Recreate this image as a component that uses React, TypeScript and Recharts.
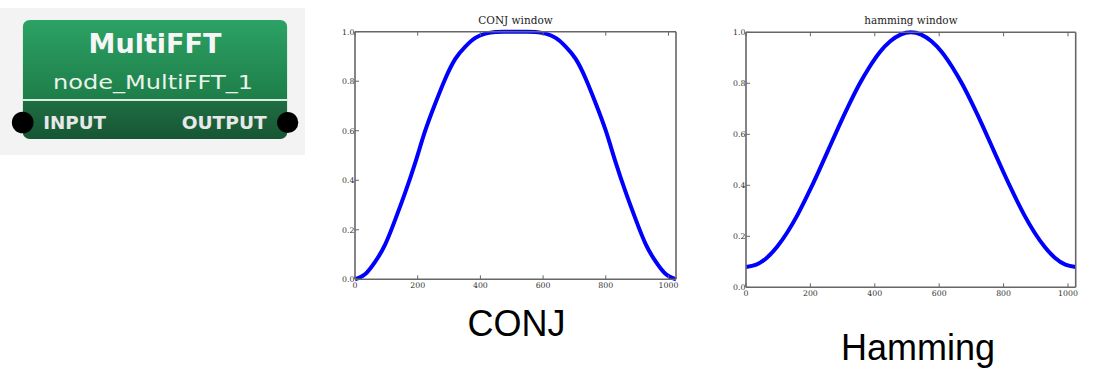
import React from 'react';
import { LineChart, Line, XAxis, YAxis } from 'recharts';

// sample index along the window (0..1024, step 32)
const sampleIndex = [
  0, 32, 64, 96, 128, 160, 192, 224, 256, 288, 320, 352, 384, 416, 448, 480, 512,
  544, 576, 608, 640, 672, 704, 736, 768, 800, 832, 864, 896, 928, 960, 992, 1024,
];

// CONJ window values
const conjWindow = [
  0.0, 0.02, 0.07, 0.14, 0.24, 0.35, 0.47, 0.6, 0.71, 0.81, 0.89, 0.94, 0.975, 0.992, 0.999, 1.0, 1.0,
  1.0, 0.999, 0.992, 0.975, 0.94, 0.89, 0.81, 0.71, 0.6, 0.47, 0.35, 0.24, 0.14, 0.07, 0.02, 0.0,
];

// hamming window values
const hammingWindow = [
  0.08, 0.089, 0.115, 0.158, 0.215, 0.284, 0.364, 0.45, 0.54, 0.63, 0.716, 0.796, 0.865, 0.923, 0.965, 0.991, 1.0,
  0.991, 0.965, 0.923, 0.865, 0.796, 0.716, 0.63, 0.54, 0.45, 0.364, 0.284, 0.215, 0.158, 0.115, 0.089, 0.08,
];

const xTicks = [0, 200, 400, 600, 800, 1000];
const yTicks = [0, 0.2, 0.4, 0.6, 0.8, 1.0];
const chartTitles = ['CONJ window', 'hamming window'];
const panelLabels = ['CONJ', 'Hamming'];
const nodeTitle = 'MultiFFT';
const nodeName = 'node_MultiFFT_1';
const portLabels = ['INPUT', 'OUTPUT'];

const conjRows = sampleIndex.map((n, i) => ({ n, v: conjWindow[i] }));
const hammingRows = sampleIndex.map((n, i) => ({ n, v: hammingWindow[i] }));

const FRAME = '#666';
const TICK_COLOR = '#333';
const SERIF = "'DejaVu Serif', serif";
const SANS = "'Liberation Sans', Arial, sans-serif";
const NODE_FONT = "'DejaVu Sans', Verdana, sans-serif";

function BottomTick(props: any) {
  const { x, y, payload } = props;
  return (
    <g>
      <line x1={x} x2={x} y1={y} y2={y - 4} stroke={FRAME} strokeWidth={1} />
      <text x={x} y={y + 8.6} textAnchor="middle" fontSize={7.8} fill={TICK_COLOR} fontFamily={SERIF}>
        {String(payload.value)}
      </text>
    </g>
  );
}
function TopTick(props: any) {
  const { x, y } = props;
  return <line x1={x} x2={x} y1={y} y2={y + 4} stroke={FRAME} strokeWidth={1} />;
}
function LeftTick(props: any) {
  const { x, y, payload } = props;
  return (
    <g>
      <line x1={x} x2={x + 4} y1={y} y2={y} stroke={FRAME} strokeWidth={1} />
      <text x={x - 0.5} y={y + 2.8} textAnchor="end" fontSize={7.8} fill={TICK_COLOR} fontFamily={SERIF}>
        {Number(payload.value).toFixed(1)}
      </text>
    </g>
  );
}
function RightTick(props: any) {
  const { x, y } = props;
  return <line x1={x} x2={x - 4} y1={y} y2={y} stroke={FRAME} strokeWidth={1} />;
}

function WindowChart(props: { rows: any[]; left: number; top: number; width: number; height: number; margin: any }) {
  const { rows, left, top, width, height, margin } = props;
  const axisLine = { stroke: FRAME, strokeWidth: 1.6 };
  return (
    <div style={{ position: 'absolute', left, top, width, height }}>
      <LineChart width={width} height={height} data={rows} margin={margin}>
        <XAxis
          dataKey="n"
          type="number"
          domain={[0, 1024]}
          ticks={xTicks}
          height={1}
          tickSize={0}
          tickMargin={0}
          tickLine={false}
          axisLine={axisLine}
          tick={BottomTick}
          interval={0}
        />
        <XAxis
          xAxisId="top"
          orientation="top"
          dataKey="n"
          type="number"
          domain={[0, 1024]}
          ticks={xTicks}
          height={1}
          tickSize={0}
          tickMargin={0}
          tickLine={false}
          axisLine={axisLine}
          tick={TopTick}
          interval={0}
        />
        <YAxis
          type="number"
          domain={[0, 1]}
          ticks={yTicks}
          width={1}
          tickSize={0}
          tickMargin={0}
          tickLine={false}
          axisLine={axisLine}
          tick={LeftTick}
          interval={0}
        />
        <YAxis
          yAxisId="right"
          orientation="right"
          type="number"
          domain={[0, 1]}
          ticks={yTicks}
          width={1}
          tickSize={0}
          tickMargin={0}
          tickLine={false}
          axisLine={axisLine}
          tick={RightTick}
          interval={0}
        />
        <Line
          type="natural"
          dataKey="v"
          stroke="#0000ff"
          strokeWidth={4}
          dot={false}
          activeDot={false}
          isAnimationActive={false}
        />
      </LineChart>
    </div>
  );
}

function NodeBox() {
  return (
    <svg width={310} height={160} style={{ position: 'absolute', left: 0, top: 0 }}>
      <defs>
        <linearGradient id="gTop" x1="0" y1="0" x2="0" y2="1">
          <stop offset="0" stopColor="#2ca265" />
          <stop offset="1" stopColor="#1e7d48" />
        </linearGradient>
        <linearGradient id="gBot" x1="0" y1="0" x2="0" y2="1">
          <stop offset="0" stopColor="#1f6e43" />
          <stop offset="1" stopColor="#165634" />
        </linearGradient>
        <clipPath id="boxClip">
          <rect x={22.7} y={20} width={264.6} height={119} rx={7} ry={7} />
        </clipPath>
      </defs>
      <rect x={0} y={8} width={305} height={147} fill="#f3f3f3" />
      <g clipPath="url(#boxClip)">
        <rect x={22.7} y={20} width={264.6} height={80} fill="url(#gTop)" />
        <rect x={22.7} y={100} width={264.6} height={39} fill="url(#gBot)" />
      </g>
      <line x1={22.7} x2={287.3} y1={100} y2={100} stroke="#d8eee0" strokeWidth={1.8} />
      <text x={155} y={53.3} textAnchor="middle" fontFamily={NODE_FONT} fontWeight="bold" fontSize={27} fill="#f6f6f6">
        {nodeTitle}
      </text>
      <text
        x={153}
        y={88.5}
        textAnchor="middle"
        fontFamily={NODE_FONT}
        fontSize={20}
        fill="#eaf3ec"
        textLength={200}
        lengthAdjust="spacingAndGlyphs"
      >
        {nodeName}
      </text>
      <text x={43.3} y={128.5} fontFamily={NODE_FONT} fontWeight="bold" fontSize={17.5} fill="#e8e8e8" textLength={62.7} lengthAdjust="spacingAndGlyphs">
        {portLabels[0]}
      </text>
      <text x={181.7} y={128.5} fontFamily={NODE_FONT} fontWeight="bold" fontSize={17.5} fill="#e8e8e8" textLength={85} lengthAdjust="spacingAndGlyphs">
        {portLabels[1]}
      </text>
      <circle cx={22.7} cy={122.5} r={10.8} fill="#000" />
      <circle cx={287.7} cy={122.5} r={10.6} fill="#000" />
    </svg>
  );
}

export default function App() {
  return (
    <div
      style={{
        position: 'absolute',
        left: 0,
        top: 0,
        width: 1118,
        height: 392,
        background: '#ffffff',
        overflow: 'hidden',
      }}
    >
      <NodeBox />
      <WindowChart
        rows={conjRows}
        left={320}
        top={0}
        width={380}
        height={300}
        margin={{ top: 30.7, left: 34, right: 23, bottom: 19.7 }}
      />
      <WindowChart
        rows={hammingRows}
        left={710}
        top={0}
        width={400}
        height={310}
        margin={{ top: 31.3, left: 35, right: 33.3, bottom: 21.7 }}
      />
      <svg width={1118} height={392} style={{ position: 'absolute', left: 0, top: 0, pointerEvents: 'none' }}>
        <text x={515.5} y={24.3} textAnchor="middle" fontFamily={SERIF} fontSize={10.5} fill="#222">
          {chartTitles[0]}
        </text>
        <text x={910.9} y={24.3} textAnchor="middle" fontFamily={SERIF} fontSize={10.4} fill="#222">
          {chartTitles[1]}
        </text>
        <text x={516.5} y={336} textAnchor="middle" fontFamily={SANS} fontSize={36} fill="#000">
          {panelLabels[0]}
        </text>
        <text x={918} y={360} textAnchor="middle" fontFamily={SANS} fontSize={36} fill="#000">
          {panelLabels[1]}
        </text>
      </svg>
    </div>
  );
}
